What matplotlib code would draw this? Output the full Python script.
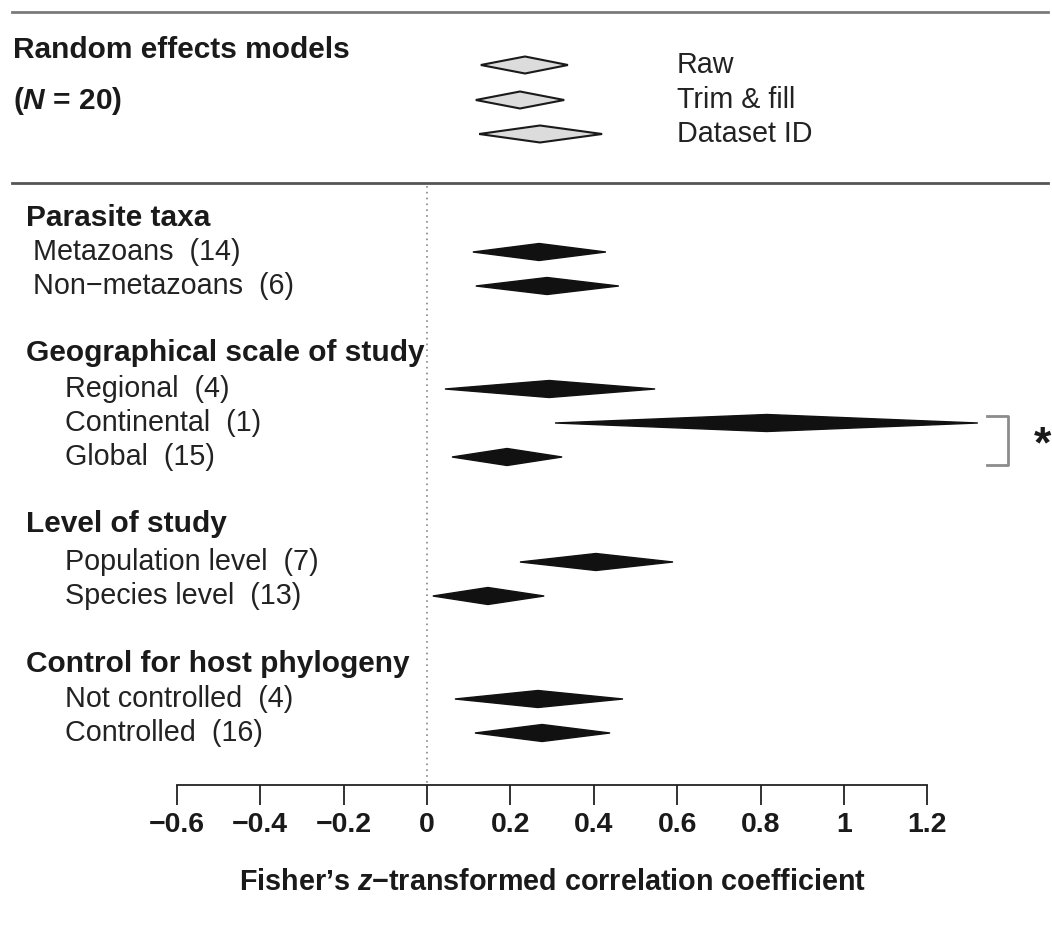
import matplotlib
matplotlib.use("Agg")
import matplotlib.pyplot as plt
import numpy as np

plt.rcParams["font.family"] = ["Liberation Sans", "DejaVu Sans"]
plt.rcParams["mathtext.fontset"] = "custom"
plt.rcParams["mathtext.rm"] = "Liberation Sans:bold"
plt.rcParams["mathtext.it"] = "Liberation Sans:bold:italic"
plt.rcParams["mathtext.bf"] = "Liberation Sans:bold"

# ---- data ----
legend_labels = ["Raw", "Trim & fill", "Dataset ID"]
legend_est = [0.235, 0.223, 0.271]
legend_lo = [0.129, 0.117, 0.125]
legend_hi = [0.338, 0.329, 0.420]

groups = ["Parasite taxa", "Geographical scale of study",
          "Level of study", "Control for host phylogeny"]
labels = ["Metazoans  (14)", "Non\u2212metazoans  (6)",
          "Regional  (4)", "Continental  (1)", "Global  (15)",
          "Population level  (7)", "Species level  (13)",
          "Not controlled  (4)", "Controlled  (16)"]
label_group = [0, 0, 1, 1, 1, 2, 2, 3, 3]
est = [0.269, 0.288, 0.293, 0.815, 0.192, 0.405, 0.146, 0.266, 0.276]
lo = [0.110, 0.117, 0.043, 0.307, 0.060, 0.223, 0.014, 0.067, 0.115]
hi = [0.429, 0.460, 0.547, 1.321, 0.324, 0.590, 0.281, 0.470, 0.439]

ticks = [-0.6, -0.4, -0.2, 0, 0.2, 0.4, 0.6, 0.8, 1, 1.2]

# ---- layout (pixel rows, figure is 1052 x 926) ----
W, H = 1052, 926
x0_px, unit_px = 427, 417
group_y = [218, 353, 524, 664]
row_y = [252, 286, 389, 423, 457, 562, 596, 699, 733]
legend_y = [65, 100, 134]
half_h = 8.5
fs_bold = 21.5
fs_reg = 20.7


def px(x):
    return (x - x0_px) / unit_px


fig = plt.figure(figsize=(W / 100, H / 100), dpi=100)
ax = fig.add_axes([0, 0, 1, 1])
ax.set_xlim(px(0), px(W))
ax.set_ylim(H, 0)


def diamond(e, l, h, y, **kw):
    ax.fill([l, e, h, e], [y, y - half_h, y, y + half_h], **kw)


# top section
ax.axhline(12, xmin=12 / W, xmax=1048 / W, color="#7a7a7a", lw=2)
ax.axhline(183, xmin=12 / W, xmax=1048 / W, color="#555555", lw=2)
ax.text(px(13), 50, "Random effects models", fontsize=fs_bold, fontweight="bold",
        va="center", ha="left", color="#1a1a1a")
ax.text(px(13), 101, "($N$ = 20)", fontsize=fs_bold, fontweight="bold",
        va="center", ha="left", color="#1a1a1a")
for lab, e, l, h, y in zip(legend_labels, legend_est, legend_lo, legend_hi, legend_y):
    diamond(e, l, h, y, facecolor="#dcdcdc", edgecolor="#1a1a1a", lw=1.5)
    ax.text(px(677), y, lab, fontsize=fs_reg, va="center", ha="left", color="#222222")

# reference line at zero
ax.vlines(0, 186, 785, colors="#888888", linestyles=(0, (1, 2.5)), lw=1.2)

# subgroup estimates
for gi, g in enumerate(groups):
    ax.text(px(26), group_y[gi], g, fontsize=fs_bold, fontweight="bold",
            va="center", ha="left", color="#1a1a1a")
for i, lab in enumerate(labels):
    indent = 33 if label_group[i] == 0 else 65
    ax.text(px(indent), row_y[i], lab, fontsize=fs_reg, va="center", ha="left",
            color="#222222")
    diamond(est[i], lo[i], hi[i], row_y[i], facecolor="#111111",
            edgecolor="#111111", lw=1.0)

# significance bracket between Continental and Global
bx0, bx1 = px(987), px(1008)
ax.plot([bx0, bx1, bx1, bx0], [416, 416, 465, 465], color="#8c8c8c", lw=2)
ax.text(px(1042), 446, "*", fontsize=32, fontweight="bold", ha="center",
        va="center", color="#1a1a1a")

# x axis
for s in ["top", "left", "right"]:
    ax.spines[s].set_visible(False)
ax.spines["bottom"].set_position(("data", 785))
ax.spines["bottom"].set_bounds(ticks[0], ticks[-1])
ax.spines["bottom"].set_linewidth(1.3)
ax.spines["bottom"].set_color("#222222")
ax.set_yticks([])
ax.set_xticks(ticks)
ax.set_xticklabels([("%g" % t).replace("-", "\u2212") for t in ticks],
                   fontsize=20.5, fontweight="bold", color="#1a1a1a")
ax.tick_params(axis="x", direction="out", length=14.5, width=1.3, pad=5,
               color="#222222")
ax.text((ticks[0] + ticks[-1]) / 2, 882,
        "Fisher\u2019s $z$\u2212transformed correlation coefficient",
        fontsize=fs_reg, fontweight="bold", ha="center", va="center",
        color="#1a1a1a")

fig.savefig("out.png", dpi=100)
